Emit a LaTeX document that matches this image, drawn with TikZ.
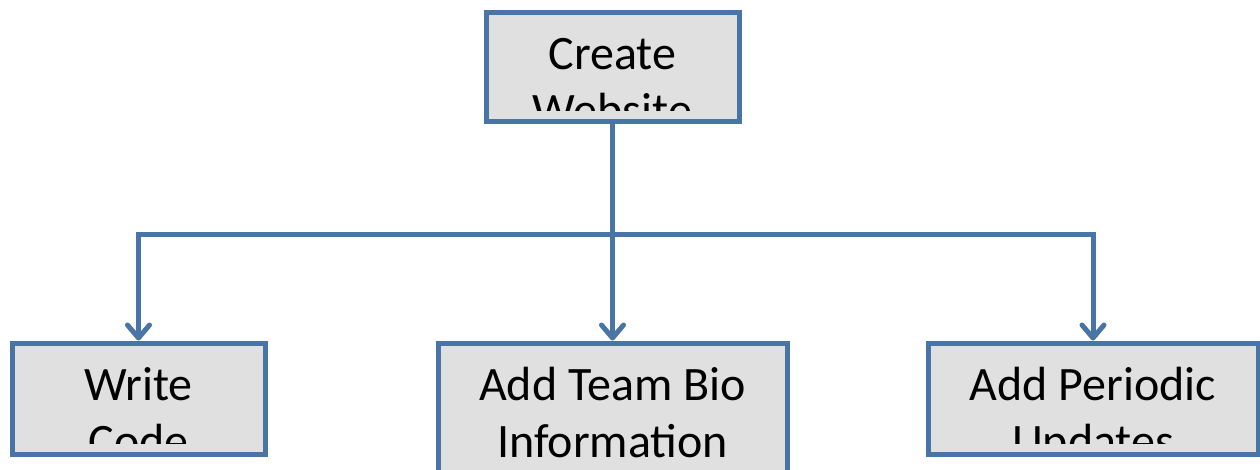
\documentclass[tikz,border=0pt]{standalone}
\usepackage{fontspec}
\setmainfont{Carlito}
\usetikzlibrary{arrows.meta,calc}
\definecolor{edge}{RGB}{72,117,166}
\definecolor{boxfill}{RGB}{224,224,224}
\tikzset{
  task/.style={draw=edge, fill=boxfill, line width=5pt, rectangle, inner sep=0pt},
  label/.style={font=\fontsize{48}{57}\selectfont, align=center, inner sep=0pt, anchor=base},
  link/.style={draw=edge, line width=5pt, line join=miter},
  tip/.style={-{Straight Barb[length=13pt,width=22pt,line cap=round,line join=round]}}
}
\newcommand{\tasktext}[3]{%
  % clip the caption to the inside of box #1, leaving a bottom margin;
  % the base anchor sits on the baseline of the second line
  \begin{scope}
    \clip ($(#1.north west)+(3,3)$) rectangle ($(#1.south east)+(-3,-13)$);
    \node[label] (#2) at ($(#1.north)+(0,117)$) {#3};
  \end{scope}}
\begin{document}
\begin{tikzpicture}[x=1pt,y=-1pt]
\useasboundingbox (0,0) rectangle (1260,469);
\node[task, minimum width=253pt, minimum height=109pt] (top) at (612.5,66.5) {};
\node[task, minimum width=253pt, minimum height=111pt] (code) at (138.5,398.5) {};
\node[task, minimum width=349pt, minimum height=134pt] (bio) at (612.5,410) {};
\node[task, minimum width=330pt, minimum height=111pt] (upd) at (1093,398.5) {};
\tasktext{top}{topt}{Create\\Website}
\tasktext{code}{codet}{Write\\Code}
\tasktext{bio}{biot}{Add Team Bio\\Information}
\tasktext{upd}{updt}{Add Periodic\\Updates}
\coordinate (split) at ($(top.south)+(0,111)$);
\coordinate (left) at (split -| code.north);
\coordinate (right) at (split -| upd.north);
\draw[link] (top.south) -- (split);
\draw[link, tip] (split) -- (bio.north);
\draw[link, tip] (split) -- (left) -- (code.north);
\draw[link, tip] (split) -- (right) -- (upd.north);
\end{tikzpicture}
\end{document}
